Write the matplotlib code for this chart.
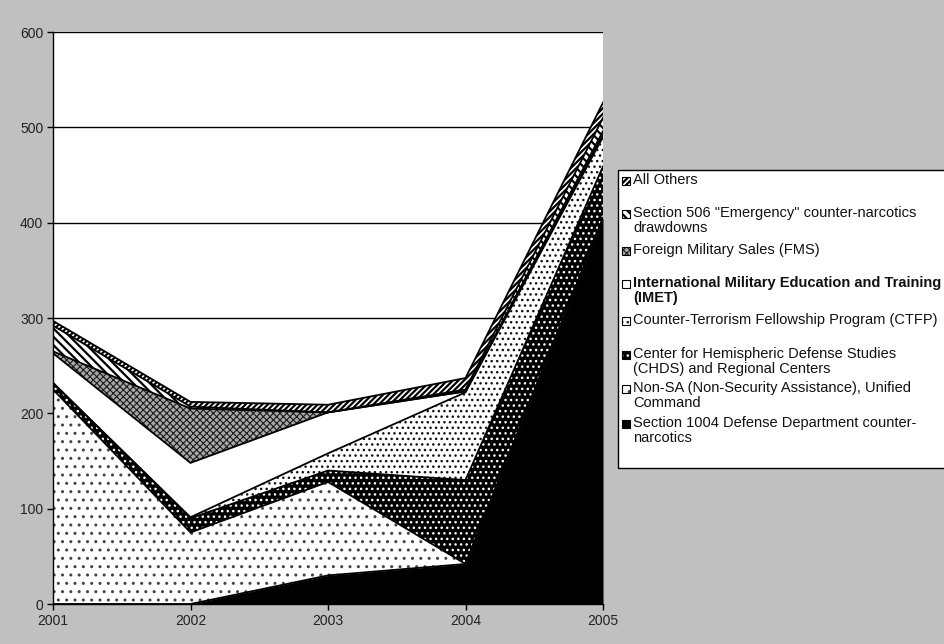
import matplotlib
matplotlib.use("Agg")
import matplotlib.pyplot as plt
from matplotlib.patches import Rectangle
import numpy as np

plt.rcParams["font.family"] = ["Liberation Sans", "DejaVu Sans"]
plt.rcParams["hatch.linewidth"] = 1.0

years = [2001, 2002, 2003, 2004, 2005]

# funding by program, bottom of the stack first
sec1004 = [0, 0, 30, 42, 405]
non_sa = [225, 75, 98, 0, 0]
chds = [7, 15, 12, 88, 54]
ctfp = [0, 1, 18, 92, 31]
imet = [31, 57, 43, 1, 2]
fms = [2, 57, 0, 0, 4]
sec506 = [27, 2, 0, 2, 14]
all_others = [5, 5, 8, 12, 16]

series = [sec1004, non_sa, chds, ctfp, imet, fms, sec506, all_others]
labels = [
    "Section 1004 Defense Department counter-\nnarcotics",
    "Non-SA (Non-Security Assistance), Unified\nCommand",
    "Center for Hemispheric Defense Studies\n(CHDS) and Regional Centers",
    "Counter-Terrorism Fellowship Program (CTFP)",
    "International Military Education and Training\n(IMET)",
    "Foreign Military Sales (FMS)",
    "Section 506 \"Emergency\" counter-narcotics\ndrawdowns",
    "All Others",
]
# (face, hatch colour, hatch, hatch line width)
styles = [
    ("black", "black", None, 1.0),
    ("white", "#444444", "..", 1.0),
    ("black", "white", "...", 1.0),
    ("white", "#111111", "...", 1.0),
    ("white", "white", None, 1.0),
    ("#a8a8a8", "#1a1a1a", "xxxxx", 0.8),
    ("white", "black", "\\\\\\\\", 1.6),
    ("white", "black", "//////", 1.6),
]
bold = [False, False, False, False, True, False, False, False]

W, H = 945, 644
fig = plt.figure(figsize=(W / 100, H / 100), dpi=100)
fig.patch.set_facecolor("#c0c0c0")
ax = fig.add_axes([53 / W, 1 - 604 / H, 550 / W, 572 / H])


def set_hatch_lw(artist, lw):
    if hasattr(artist, "set_hatch_linewidth"):
        artist.set_hatch_linewidth(lw)


cum = np.cumsum(np.array(series, dtype=float), axis=0)
base = np.zeros(len(years))
for top, (fc, hc, hatch, hlw) in zip(cum, styles):
    poly = ax.fill_between(years, base, top, facecolor=fc, edgecolor=hc,
                           hatch=hatch, linewidth=0, zorder=2)
    set_hatch_lw(poly, hlw)
    base = top
for top in cum:
    ax.plot(years, top, color="black", lw=1.3, zorder=3,
            solid_joinstyle="miter")

ax.set_xlim(2001, 2005)
ax.set_ylim(0, 600)
ax.set_xticks(years)
ax.set_yticks(range(0, 601, 100))
ax.grid(axis="y", color="black", lw=1.0, zorder=1)
ax.set_axisbelow(True)
for s in ("top", "right"):
    ax.spines[s].set_visible(False)
for s in ("left", "bottom"):
    ax.spines[s].set_linewidth(1.0)
    ax.spines[s].set_zorder(4)
ax.tick_params(direction="out", length=4, width=1, labelsize=10, pad=3,
               labelcolor="#222222")

# legend drawn by hand so entries keep fixed slots
def fx(px):
    return px / W


def fy(py):
    return 1 - py / H


fig.patches.append(Rectangle((fx(618), fy(468)), fx(340), 298 / H,
                             transform=fig.transFigure, facecolor="white",
                             edgecolor="black", lw=1.0, zorder=1))
slots = [424, 389, 355, 321, 284, 251, 214, 181]
for yc, lab, (fc, hc, hatch, hlw), b in zip(slots, labels, styles, bold):
    box = Rectangle((fx(622), fy(yc + 4)), fx(8), 8 / H,
                    transform=fig.transFigure, facecolor=fc,
                    edgecolor=hc, hatch=hatch, lw=0, zorder=2)
    set_hatch_lw(box, hlw)
    fig.patches.append(box)
    fig.patches.append(Rectangle((fx(622), fy(yc + 4)), fx(8), 8 / H,
                                 transform=fig.transFigure, facecolor="none",
                                 edgecolor="black", lw=0.8, zorder=3))
    fig.text(fx(633), fy(yc - 8), lab, fontsize=10.5, va="top", ha="left",
             linespacing=1.05, color="#111111",
             fontweight="bold" if b else "normal")

fig.savefig("out.png", dpi=100, facecolor=fig.get_facecolor())
